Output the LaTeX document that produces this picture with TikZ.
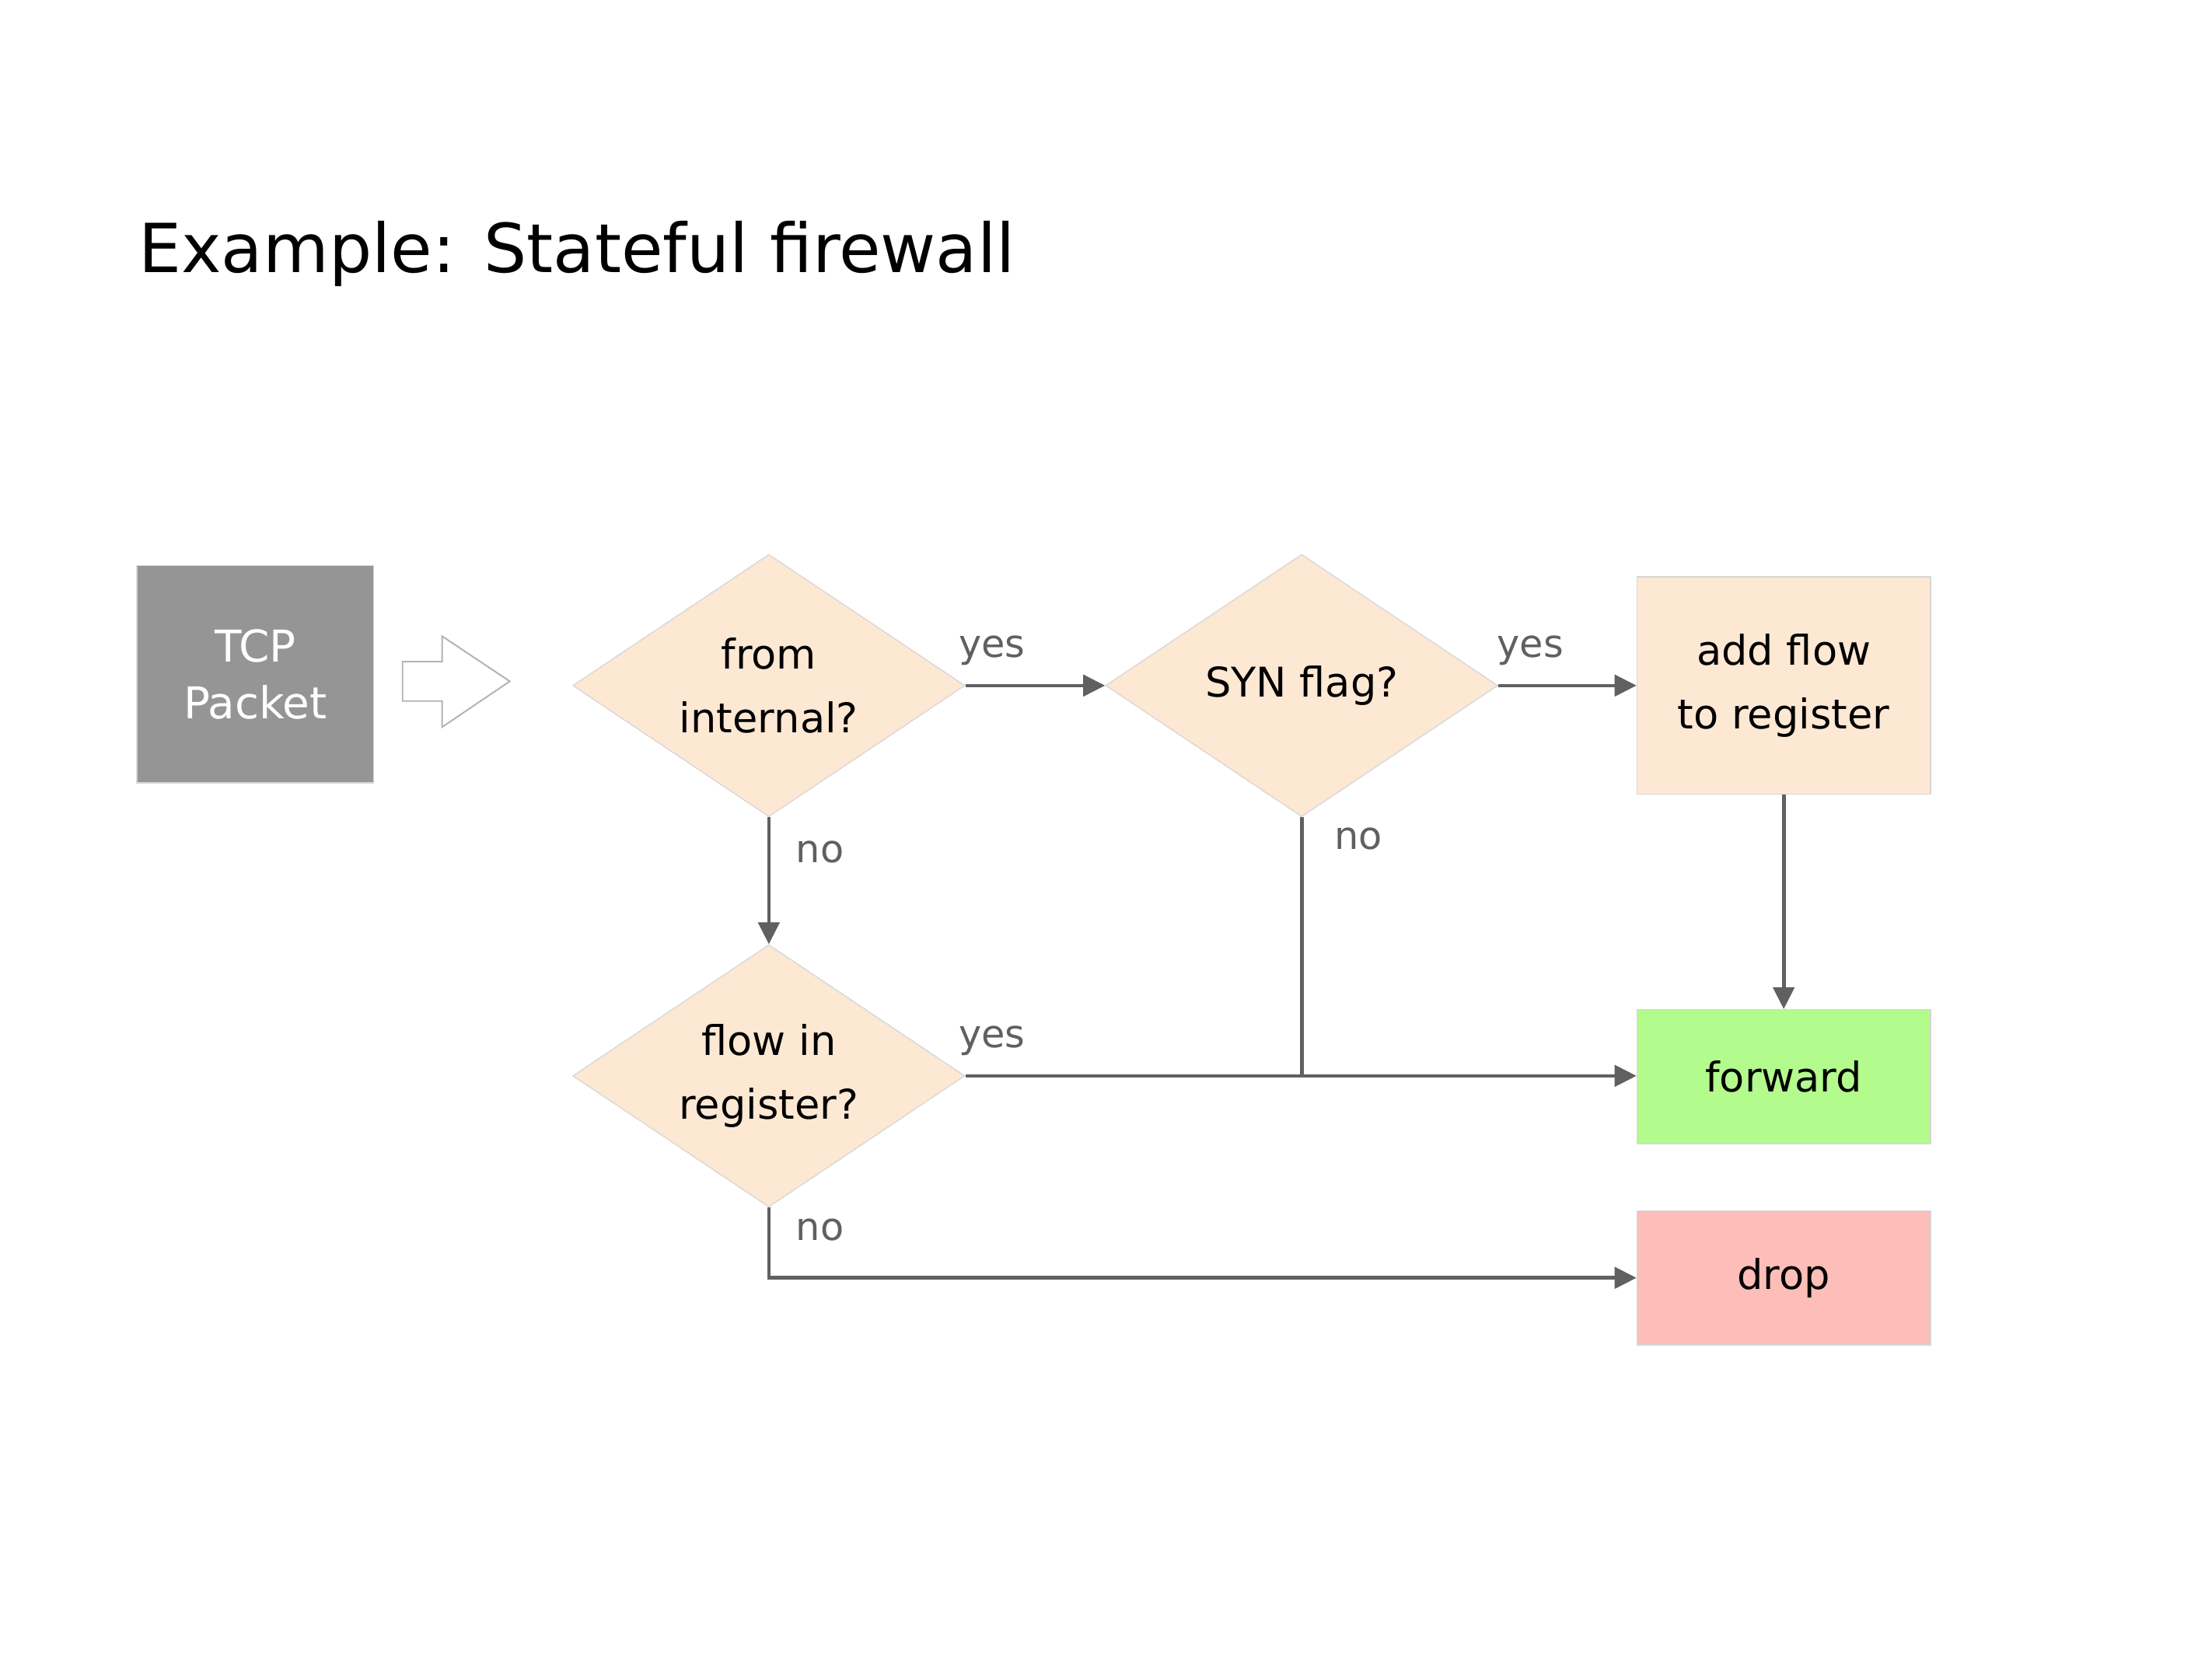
\documentclass[tikz,border=0pt]{standalone}
\usepackage{fontspec}
\setmainfont{DejaVu Sans}
\usetikzlibrary{arrows.meta,positioning,shapes.geometric}
\definecolor{peach}{HTML}{FDE8D3}
\definecolor{okgreen}{HTML}{B3FB8C}
\definecolor{droppink}{HTML}{FDBDB8}
\definecolor{pktgray}{HTML}{959595}
\definecolor{rim}{HTML}{D6D6D6}
\definecolor{linegray}{HTML}{606060}

\begin{document}
\begin{tikzpicture}[x=1mm, y=-1mm,
  every node/.style={font=\fontsize{16.5}{25.6}\selectfont},
  test/.style={diamond, aspect=1.5, draw=rim, fill=peach, align=center,
               minimum width=55.6mm, minimum height=37.2mm, inner sep=0pt},
  action/.style={rectangle, draw=rim, fill=peach, align=center,
                 minimum width=41.6mm, minimum height=30.8mm, inner sep=0pt},
  verdict/.style={action, minimum height=19mm},
  arr/.style={-{Triangle[length=3.1mm, width=3mm]}, linegray, line width=1.45pt},
  plain/.style={linegray, line width=1.45pt},
  hollow/.style={draw=gray!60, fill=white, line width=0.6pt},
  lbl/.style={text=linegray, font=\fontsize{15.5}{18}\selectfont, inner sep=0pt}
]
\useasboundingbox (0,0) rectangle (313.6,235.2);

\node[anchor=base west, inner sep=0pt, font=\fontsize{27.3}{32}\selectfont]
  (title) at (19.6,38.6) {Example: Stateful firewall};

\node[rectangle, draw=rim, fill=pktgray, text=white, align=center,
      minimum width=33.6mm, minimum height=30.8mm,
      font=\fontsize{17.7}{22.8}\selectfont] (packet) at (36.2,95.6) {TCP\\Packet};
\node[test] (internal) at (109,97.2) {from\\internal?};
\node[test, right=19.8mm of internal] (syn) {SYN flag?};
\node[action, right=19.6mm of syn] (addflow) {add flow\\to register};
\node[test, below=18mm of internal] (known) {flow in\\register?};
\node[verdict, fill=okgreen, below=30.4mm of addflow] (forward) {forward};
\node[verdict, fill=droppink, below=9.4mm of forward] (drop) {drop};

\draw[hollow] ([shift={(4,1)}]packet.east) ++(0,-2.8) -- ++(5.6,0) -- ++(0,-3.6)
  -- ++(9.6,6.4) -- ++(-9.6,6.5) -- ++(0,-3.7) -- ++(-5.6,0) -- cycle;

\draw[arr] (internal.east) -- node[lbl, pos=0, anchor=base west, xshift=-1.2mm, yshift=4mm] {yes} (syn.west);
\draw[arr] (syn.east) -- node[lbl, pos=0, anchor=base west, xshift=-0.4mm, yshift=4mm] {yes} (addflow.west);
\draw[arr] (internal.south) -- node[lbl, pos=0, anchor=base west, xshift=3.6mm, yshift=-6.4mm] {no} (known.north);
\draw[arr] (addflow.south) -- (forward.north);
\draw[arr] (known.east) -- node[lbl, pos=0, anchor=base west, xshift=-1.2mm, yshift=4mm] {yes} (known.east -| forward.west);
\coordinate (merge) at (syn.south |- known.east);
\draw[plain] (syn.south) -- node[lbl, pos=0, anchor=base west, xshift=4.4mm, yshift=-4.6mm] {no} (merge);
\draw[arr] (known.south) |- node[lbl, pos=0, anchor=base west, xshift=3.6mm, yshift=-4.6mm] {no} (drop.west);
\end{tikzpicture}
\end{document}
